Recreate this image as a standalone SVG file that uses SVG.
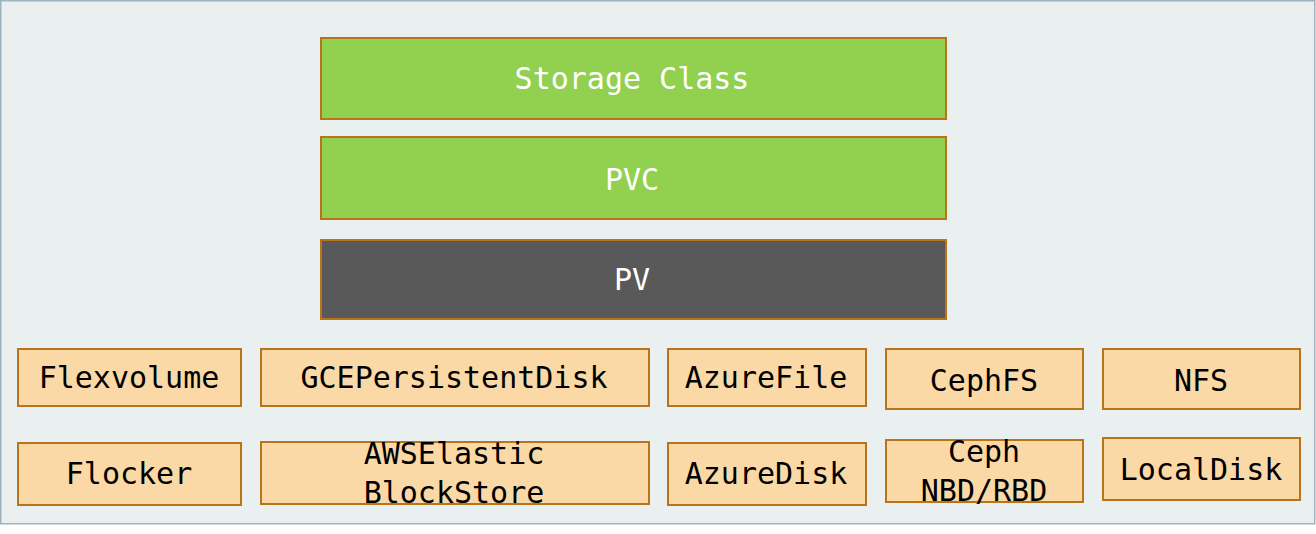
<svg xmlns="http://www.w3.org/2000/svg" width="1316" height="534" viewBox="0 0 1316 534">
<style>
.bg{fill:#eaeff0;stroke:#9fb3bd;stroke-width:1.5}
.g{fill:#92d050;stroke:#b8741a;stroke-width:2}
.d{fill:#595959;stroke:#b8741a;stroke-width:2}
.o{fill:#fbd9a6;stroke:#b8741a;stroke-width:2}
text{font-family:"DejaVu Sans Mono","Liberation Mono",monospace;font-size:30px;text-anchor:middle}
.w{fill:#ffffff}
.k{fill:#000000}
</style>
<rect class="bg" x="0.75" y="0.75" width="1314" height="523"/>
<g id="storage-class"><rect class="g" x="321" y="38" width="625" height="81"/><text class="w" x="632" y="89">Storage Class</text></g>
<g id="pvc"><rect class="g" x="321" y="137" width="625" height="82"/><text class="w" x="632" y="190">PVC</text></g>
<g id="pv"><rect class="d" x="321" y="240" width="625" height="79"/><text class="w" x="632" y="290">PV</text></g>
<g id="flexvolume"><rect class="o" x="18" y="349" width="223" height="57"/><text class="k" x="129" y="388">Flexvolume</text></g>
<g id="gcepersistentdisk"><rect class="o" x="261" y="349" width="388" height="57"/><text class="k" x="454" y="388">GCEPersistentDisk</text></g>
<g id="azurefile"><rect class="o" x="668" y="349" width="198" height="57"/><text class="k" x="766" y="388">AzureFile</text></g>
<g id="cephfs"><rect class="o" x="886" y="349" width="197" height="60"/><text class="k" x="984" y="391">CephFS</text></g>
<g id="nfs"><rect class="o" x="1103" y="349" width="197" height="60"/><text class="k" x="1201" y="391">NFS</text></g>
<g id="flocker"><rect class="o" x="18" y="443" width="223" height="62"/><text class="k" x="129" y="484">Flocker</text></g>
<g id="awselasticblockstore"><rect class="o" x="261" y="442" width="388" height="62"/><text class="k" x="454" y="464">AWSElastic</text><text class="k" x="454" y="503">BlockStore</text></g>
<g id="azuredisk"><rect class="o" x="668" y="443" width="198" height="62"/><text class="k" x="766" y="484">AzureDisk</text></g>
<g id="ceph-nbd-rbd"><rect class="o" x="886" y="440" width="197" height="62"/><text class="k" x="984" y="462">Ceph</text><text class="k" x="984" y="501">NBD/RBD</text></g>
<g id="localdisk"><rect class="o" x="1103" y="438" width="197" height="62"/><text class="k" x="1201" y="480">LocalDisk</text></g>
<g id="connectors"/>
</svg>
